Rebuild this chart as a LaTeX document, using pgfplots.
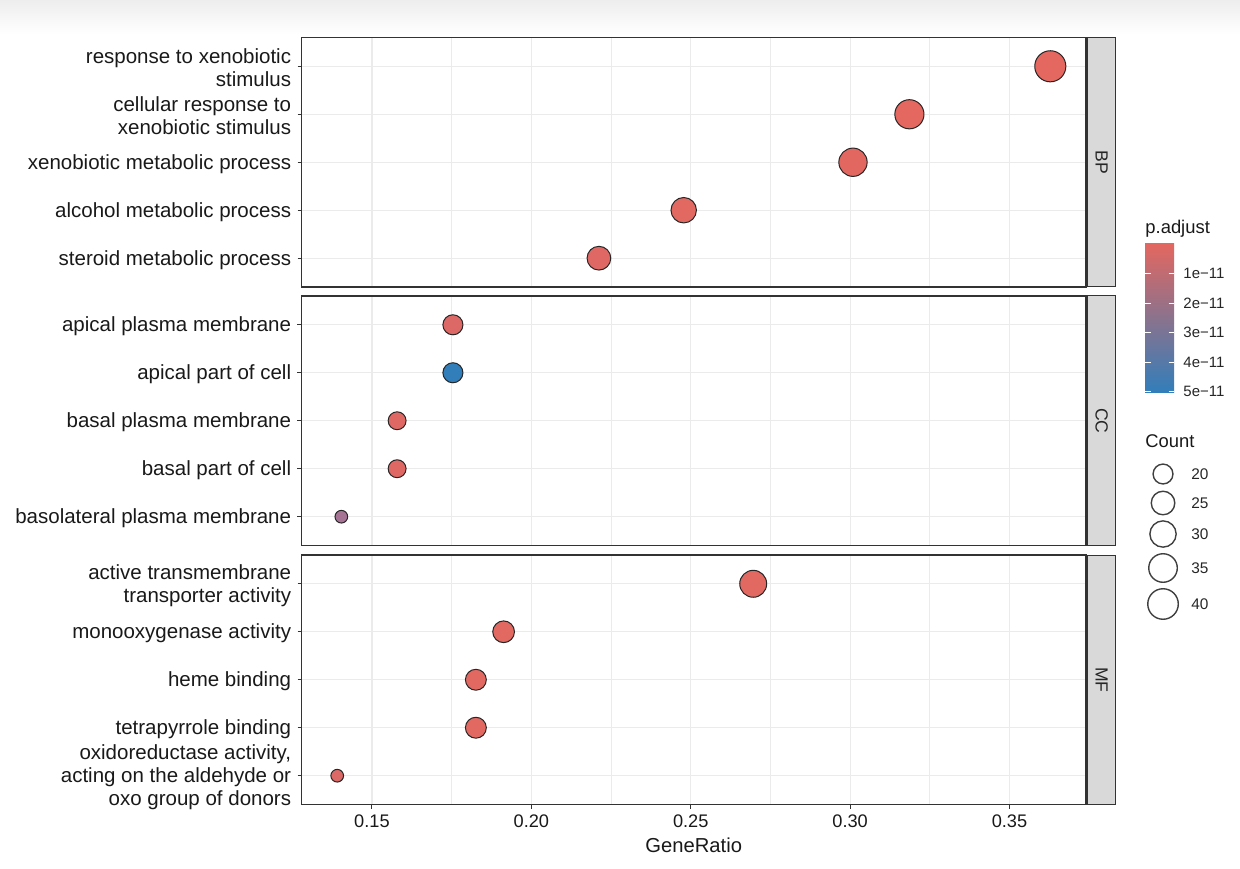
\documentclass[border=0pt]{standalone}
\usepackage{fontspec}
\setmainfont{Liberation Sans}
\usepackage{pgfplots}
\pgfplotsset{compat=1.18}
\usepackage{pgfplotstable}

\definecolor{gridgray}{HTML}{EBEBEB}
\definecolor{stripgray}{HTML}{D9D9D9}
\definecolor{framegray}{HTML}{333333}
\definecolor{pred}{RGB}{228,103,96}
\definecolor{pmid}{RGB}{170,116,148}
\definecolor{pblue}{HTML}{327EBA}

% GeneRatio, row, p.adjust, Count
\pgfplotstableread{
x      y  padj    count
0.3628 5  1e-13   41
0.3186 4  2e-13   36
0.3009 3  4e-13   34
0.2478 2  1e-12   28
0.2212 1  2e-12   25
}\bpdata
\pgfplotstableread{
x      y  padj    count
0.1754 5  3e-12   20
0.1754 4  5e-11   20
0.1579 3  2e-12   18
0.1579 2  2e-12   18
0.1404 1  2.6e-11 16
}\ccdata
\pgfplotstableread{
x      y  padj    count
0.2696 5  1e-12   31
0.1913 4  1e-12   22
0.1826 3  1e-12   21
0.1826 2  1e-12   21
0.1391 1  3e-12   16
}\mfdata
\pgfplotstableread{
x    y   count
1163 474 20
1163 503 25
1163 534 30
1163 568 35
1163 604 40
}\cntleg

\pgfplotsset{
 panel/.style={
  scale only axis, width=392.25pt, height=124.75pt,
  xmin=0.1279, xmax=0.3740, ymin=0.4, ymax=5.6,
  xtick={0.15,0.2,0.25,0.3,0.35},
  minor xtick={0.175,0.225,0.275,0.325},
  ytick={1,2,3,4,5},
  xmajorgrids, xminorgrids, ymajorgrids,
  major grid style={gridgray, line width=0.6pt},
  minor grid style={gridgray, line width=0.35pt},
  axis line style={framegray, line width=0.55pt},
  tick align=outside, ytick pos=left, xtick pos=bottom,
  major tick length=2pt, minor tick length=0pt,
  tick style={framegray, line width=0.5pt},
  yticklabel style={font=\fontsize{10.25}{11.5}\selectfont, align=right, text=black!90, inner sep=0pt, xshift=-3pt, yshift=-0.8pt},
  xticklabel style={font=\fontsize{9.1}{10}\selectfont, text=black!90, inner sep=0pt, yshift=-2.8pt},
  clip=false,
  colormap={padj}{rgb255=(228,103,96) rgb255=(170,116,148) rgb255=(50,126,186)},
  point meta min=0, point meta max=5e-11,
 },
 dots/.style={
  scatter, only marks, mark=*,
  scatter/use mapped color={draw=black!85, fill=mapped color},
  point meta=\thisrow{padj},
  visualization depends on={(2.26+3.68*(3+5*sqrt((\thisrow{count}-16)/25)))/4-0.15 \as \msize},
  scatter/@pre marker code/.append style={/tikz/mark size=\msize},
  mark options={line width=0.5pt},
 },
}

\begin{document}
\begin{tikzpicture}
% faint screenshot band at the top
\shade[top color=black!7, bottom color=white] (0,434pt) rectangle (620pt,417pt);

\begin{axis}[panel, name=bp, at={(150.75pt,415.25pt)}, anchor=north west,
  xticklabels={}, xtick style={draw=none},
  yticklabels={steroid metabolic process, alcohol metabolic process, xenobiotic metabolic process, {cellular response to\\xenobiotic stimulus}, {response to xenobiotic\\stimulus}}]
\addplot[dots] table {\bpdata};
\end{axis}

\begin{axis}[panel, name=cc, at={(150.75pt,286pt)}, anchor=north west,
  xticklabels={}, xtick style={draw=none},
  yticklabels={basolateral plasma membrane, basal part of cell, basal plasma membrane, apical part of cell, apical plasma membrane}]
\addplot[dots] table {\ccdata};
\end{axis}

\begin{axis}[panel, name=mf, at={(150.75pt,156.5pt)}, anchor=north west,
  xticklabels={0.15,0.20,0.25,0.30,0.35},
  xlabel={GeneRatio},
  xlabel style={font=\fontsize{10.1}{12}\selectfont, text=black!90, at={(axis description cs:0.5,0)}, anchor=north, inner sep=0pt, yshift=-16.5pt},
  yticklabels={{oxidoreductase activity,\\acting on the aldehyde or\\oxo group of donors}, tetrapyrrole binding, heme binding, monooxygenase activity, {active transmembrane\\transporter activity}}]
\addplot[dots] table {\mfdata};
\end{axis}

% facet strips
\foreach \ax/\lab in {bp/BP, cc/CC, mf/MF}{
  \draw[fill=stripgray, draw=framegray, line width=0.5pt] ([xshift=0.7pt]\ax.south east) rectangle ([xshift=14.9pt]\ax.north east);
  \node[rotate=-90, font=\fontsize{8.8}{10}\selectfont, text=black!85] at ([xshift=7.8pt]\ax.east) {\lab};
}

% legends (coordinates in reference pixels)
\begin{axis}[at={(0,0)}, anchor=south west, scale only axis, width=620pt, height=434pt,
  xmin=0, xmax=1240, ymin=0, ymax=868, y dir=reverse, hide axis, clip=false]
\node[anchor=base west, inner sep=0pt, font=\fontsize{9.2}{10}\selectfont, text=black!90] at (axis cs:1145,233) {p.adjust};
\shade[top color=pred, middle color=pmid, bottom color=pblue] (axis cs:1145,243) rectangle (axis cs:1174,392);
\pgfplotsinvokeforeach{273.5,303,332.5,362,391.5}{
  \draw[white, line width=0.5pt] (axis cs:1145,#1) -- (axis cs:1150.5,#1);
  \draw[white, line width=0.5pt] (axis cs:1168.5,#1) -- (axis cs:1174,#1);
}
\node[anchor=west, inner sep=0pt, font=\fontsize{7.5}{9}\selectfont, text=black!85] at (axis cs:1183,273.5) {1e−11};
\node[anchor=west, inner sep=0pt, font=\fontsize{7.5}{9}\selectfont, text=black!85] at (axis cs:1183,303) {2e−11};
\node[anchor=west, inner sep=0pt, font=\fontsize{7.5}{9}\selectfont, text=black!85] at (axis cs:1183,332.5) {3e−11};
\node[anchor=west, inner sep=0pt, font=\fontsize{7.5}{9}\selectfont, text=black!85] at (axis cs:1183,362) {4e−11};
\node[anchor=west, inner sep=0pt, font=\fontsize{7.5}{9}\selectfont, text=black!85] at (axis cs:1183,391.5) {5e−11};

\node[anchor=base west, inner sep=0pt, font=\fontsize{9.2}{10}\selectfont, text=black!90] at (axis cs:1145,447) {Count};
\addplot[scatter, only marks, mark=*, point meta=0,
  scatter/use mapped color={draw=black!75, fill=white},
  visualization depends on={(2.26+3.68*(3+5*sqrt((\thisrow{count}-16)/25)))/4-0.2 \as \msize},
  scatter/@pre marker code/.append style={/tikz/mark size=\msize},
  mark options={line width=0.7pt}] table {\cntleg};
\node[anchor=west, inner sep=0pt, font=\fontsize{7.7}{9}\selectfont, text=black!85] at (axis cs:1191,474) {20};
\node[anchor=west, inner sep=0pt, font=\fontsize{7.7}{9}\selectfont, text=black!85] at (axis cs:1191,503) {25};
\node[anchor=west, inner sep=0pt, font=\fontsize{7.7}{9}\selectfont, text=black!85] at (axis cs:1191,534) {30};
\node[anchor=west, inner sep=0pt, font=\fontsize{7.7}{9}\selectfont, text=black!85] at (axis cs:1191,568) {35};
\node[anchor=west, inner sep=0pt, font=\fontsize{7.7}{9}\selectfont, text=black!85] at (axis cs:1191,604) {40};
\end{axis}

\pgfresetboundingbox
\path (0,0) rectangle (620pt,434pt);
\end{tikzpicture}
\end{document}
